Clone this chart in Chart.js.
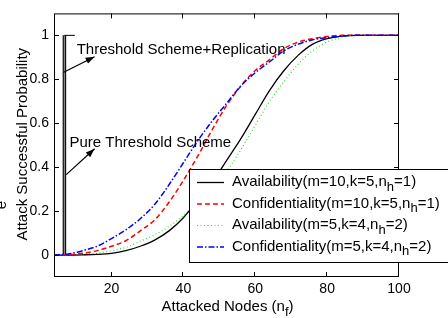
<!DOCTYPE html>
<html><head><meta charset="utf-8">
<script src="https://cdn.jsdelivr.net/npm/chart.js@4"></script>
<style>html,body{margin:0;padding:0;background:#fff}canvas{display:block}</style>
</head><body>
<canvas id="c" width="448" height="318"></canvas>
<script>
// ---- data ----
const nodes   = [4,8,12,16,20,24,28,32,36,40,44,48,52,56,60,64,68,72,76,80,84,88,92,96,100];
const availA  = [0,0,0.001,0.003,0.008,0.02,0.04,0.068,0.11,0.17,0.25,0.33,0.43,0.53,0.64,0.75,0.84,0.91,0.96,0.985,0.997,1,1,1,1];
const confA   = [0,0.002,0.008,0.02,0.04,0.065,0.11,0.16,0.24,0.34,0.45,0.57,0.68,0.77,0.84,0.89,0.94,0.97,0.985,0.995,1,1,1,1,1];
const availB  = [0,0.001,0.004,0.009,0.02,0.035,0.063,0.092,0.13,0.18,0.235,0.30,0.38,0.48,0.59,0.70,0.79,0.87,0.93,0.97,0.99,1,1,1,1];
const confB   = [0,0.005,0.02,0.04,0.075,0.115,0.165,0.23,0.32,0.42,0.52,0.61,0.69,0.77,0.83,0.88,0.93,0.96,0.98,0.99,0.997,1,1,1,1];
const stepX   = [6.9, 6.9];      // threshold step (nodes)
const stepY   = [0, 1];
const capX    = [6.9, 9.8];
const capY    = [1, 1];
const xTicks  = [20,40,60,80,100];
const yTicks  = [0,0.2,0.4,0.6,0.8,1];
const yTickLabels = ['0','0.2','0.4','0.6','0.8','1'];
const legendLabels = [
  ['Availability(m=10,k=5,n','h','=1)'],
  ['Confidentiality(m=10,k=5,n','h','=1)'],
  ['Availability(m=5,k=4,n','h','=2)'],
  ['Confidentiality(m=5,k=4,n','h','=2)']
];
const annotations = [
  {text:'Threshold Scheme+Replication', tx:10.3, ty:0.934, ax0:6.7, ay0:0.832, ax1:15.3, ay1:0.903},
  {text:'Pure Threshold Scheme',        tx:8.3,  ty:0.509, ax0:7.4, ay0:0.366, ax1:15.3, ay1:0.484}
];

const FONT = '"Liberation Sans", Arial, Helvetica, sans-serif';
const pts = (xs, ys) => xs.map((v,i)=>({x:v, y:ys[i]}));

const styles = [
  {color:'#000000', dash:[], width:1.3},
  {color:'#ff0000', dash:[5,3], width:1.5},
  {color:'#33dd33', dash:[1,2.5], width:1.2},
  {color:'#0000ff', dash:[6,2,1.5,2], width:1.5}
];
const series = [availA, confA, availB, confB];

const datasets = series.map((s,i)=>({
  data: pts(nodes, s), borderColor: styles[i].color, borderDash: styles[i].dash,
  borderWidth: styles[i].width, pointRadius:0, fill:false,
  cubicInterpolationMode:'monotone', order: [2,1,3,0][i]
}));
datasets.push({data: pts(stepX, stepY), borderColor:'#000', borderWidth:3.5, pointRadius:0, order:6, tension:0});
datasets.push({data: pts(stepX, stepY), borderColor:'#888', borderWidth:1.4, pointRadius:0, order:5, tension:0});
datasets.push({data: pts(capX, capY), borderColor:'#000', borderWidth:1, pointRadius:0, order:4, tension:0});

function arrow(ctx, x0, y0, x1, y1){
  ctx.beginPath(); ctx.moveTo(x0,y0); ctx.lineTo(x1,y1); ctx.stroke();
  const ang = Math.atan2(y1-y0, x1-x0), L = 9, W = 3.2;
  ctx.beginPath();
  ctx.moveTo(x1,y1);
  ctx.lineTo(x1 - L*Math.cos(ang) + W*Math.sin(ang), y1 - L*Math.sin(ang) - W*Math.cos(ang));
  ctx.lineTo(x1 - L*Math.cos(ang) - W*Math.sin(ang), y1 - L*Math.sin(ang) + W*Math.cos(ang));
  ctx.closePath(); ctx.fill();
}

function subText(ctx, parts, x, y, size){
  ctx.font = size + 'px ' + FONT;
  ctx.fillText(parts[0], x, y);
  let w = ctx.measureText(parts[0]).width;
  ctx.font = (size-2) + 'px ' + FONT;
  ctx.fillText(parts[1], x + w, y + 5);
  w += ctx.measureText(parts[1]).width;
  ctx.font = size + 'px ' + FONT;
  ctx.fillText(parts[2], x + w, y);
  return w + ctx.measureText(parts[2]).width;
}

const overlay = {
  id:'overlay',
  afterDatasetsDraw(chart){
    const {ctx, chartArea:a, scales:{x, y}} = chart;
    ctx.save();
    ctx.strokeStyle = '#000'; ctx.fillStyle = '#000'; ctx.lineWidth = 1;
    ctx.strokeRect(a.left+0.5, a.top+0.5, a.right-a.left-1, a.bottom-a.top-1);
    ctx.beginPath();
    xTicks.forEach(v=>{
      const p = Math.round(x.getPixelForValue(v)) - 0.5;
      ctx.moveTo(p, a.bottom); ctx.lineTo(p, a.bottom-5);
      ctx.moveTo(p, a.top); ctx.lineTo(p, a.top+5);
    });
    yTicks.forEach(v=>{
      const p = Math.round(y.getPixelForValue(v)) + 0.5;
      ctx.moveTo(a.left, p); ctx.lineTo(a.left+5, p);
      ctx.moveTo(a.right, p); ctx.lineTo(a.right-5, p);
    });
    ctx.stroke();
    // annotations
    ctx.textBaseline = 'middle'; ctx.textAlign = 'left';
    ctx.font = '15px ' + FONT;
    annotations.forEach(an=>{
      ctx.fillText(an.text, x.getPixelForValue(an.tx), y.getPixelForValue(an.ty));
      ctx.lineWidth = 1.2;
      arrow(ctx, x.getPixelForValue(an.ax0), y.getPixelForValue(an.ay0),
                 x.getPixelForValue(an.ax1), y.getPixelForValue(an.ay1));
    });
    // axis titles
    ctx.textBaseline = 'alphabetic';
    ctx.font = '15px ' + FONT;
    const t1 = 'Attacked Nodes (n', t2 = 'f', t3 = ')';
    const w1 = ctx.measureText(t1).width, w3 = ctx.measureText(t3).width;
    ctx.font = '13px ' + FONT; const w2 = ctx.measureText(t2).width;
    const cx = (a.left + a.right)/2 + 1;
    const sx = cx - (w1+w2+w3)/2;
    subText(ctx, [t1,t2,t3], sx, 311, 15);
    ctx.save();
    ctx.translate(27, (a.top + a.bottom)/2 - 1);
    ctx.rotate(-Math.PI/2);
    ctx.textAlign = 'center';
    ctx.font = '15px ' + FONT;
    ctx.fillText('Attack Successful Probability', 0, 0);
    ctx.restore();
    ctx.save();
    ctx.translate(6, 205); ctx.rotate(-Math.PI/2);
    ctx.textAlign = 'center'; ctx.font = '15px ' + FONT;
    ctx.fillText('e', 0, 0);
    ctx.restore();
    ctx.restore();
  },
  afterDraw(chart){
    const {ctx} = chart;
    ctx.save();
    const bx = 189.5, by = 169.5, bw = 300, bh = 93;
    ctx.fillStyle = '#fff'; ctx.fillRect(bx, by, bw, bh);
    ctx.strokeStyle = '#000'; ctx.lineWidth = 1; ctx.strokeRect(bx, by, bw, bh);
    const rows = [182, 203.5, 225, 246.5];
    rows.forEach((ry,i)=>{
      ctx.strokeStyle = styles[i].color; ctx.lineWidth = styles[i].width;
      ctx.setLineDash(styles[i].dash);
      ctx.beginPath(); ctx.moveTo(197, ry+0.5); ctx.lineTo(224, ry+0.5); ctx.stroke();
      ctx.setLineDash([]);
      ctx.fillStyle = '#000'; ctx.textBaseline = 'middle'; ctx.textAlign = 'left';
      subText(ctx, legendLabels[i], 232, ry, 15);
    });
    ctx.restore();
  }
};

new Chart(document.getElementById('c'), {
  type:'line',
  data:{datasets},
  options:{
    responsive:false, animation:false, devicePixelRatio:1,
    layout:{padding:{top:5, right:49, left:0, bottom:0}},
    plugins:{legend:{display:false}, tooltip:{enabled:false}},
    scales:{
      x:{type:'linear', min:4, max:100,
        afterBuildTicks: s=>{ s.ticks = xTicks.map(v=>({value:v})); },
        afterFit: s=>{ s.height = 41; },
        grid:{display:false, drawTicks:false}, border:{display:false},
        ticks:{color:'#000', font:{family:FONT, size:14}, padding:4, maxRotation:0, autoSkip:false,
               callback:(v)=>String(v)}},
      y:{type:'linear', min:-0.1, max:1.1,
        afterBuildTicks: s=>{ s.ticks = yTicks.map(v=>({value:v})); },
        afterFit: s=>{ s.width = 54; },
        grid:{display:false, drawTicks:false}, border:{display:false},
        ticks:{color:'#000', font:{family:FONT, size:14}, padding:5, autoSkip:false,
               callback:(v)=>{ const i = yTicks.findIndex(t=>Math.abs(t-v)<1e-9); return i>=0 ? yTickLabels[i] : ''; }}}
    }
  },
  plugins:[overlay]
});
</script>
</body></html>
